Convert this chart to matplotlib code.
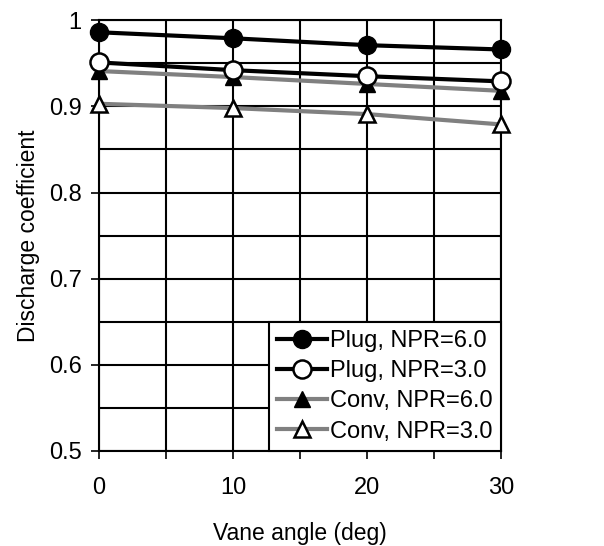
import matplotlib
matplotlib.use('Agg')
import matplotlib.pyplot as plt
import numpy as np

plt.rcParams['font.family'] = ['Liberation Sans', 'DejaVu Sans']

# data
vane_angle = [0, 10, 20, 30]
plug_npr6 = [0.986, 0.979, 0.971, 0.966]
plug_npr3 = [0.951, 0.942, 0.935, 0.929]
conv_npr6 = [0.941, 0.934, 0.926, 0.918]
conv_npr3 = [0.903, 0.898, 0.891, 0.879]

labels = ['Plug, NPR=6.0', 'Plug, NPR=3.0', 'Conv, NPR=6.0', 'Conv, NPR=3.0']

fig = plt.figure(figsize=(6.04, 5.46), dpi=100)
ax = fig.add_axes([0.164, 0.174, 0.666, 0.789])

gray = '#808080'
ax.plot(vane_angle, plug_npr6, color='black', lw=3, marker='o', ms=13,
        mfc='black', mec='black', label=labels[0], zorder=5, clip_on=False)
ax.plot(vane_angle, plug_npr3, color='black', lw=3, marker='o', ms=13,
        mfc='white', mec='black', mew=1.8, label=labels[1], zorder=5, clip_on=False)
ax.plot(vane_angle, conv_npr6, color=gray, lw=3, marker='^', ms=12,
        mfc='black', mec='black', label=labels[2], zorder=4, clip_on=False)
ax.plot(vane_angle, conv_npr3, color=gray, lw=3, marker='^', ms=12,
        mfc='white', mec='black', mew=1.8, label=labels[3], zorder=4, clip_on=False)

ax.set_xlim(0, 30)
ax.set_ylim(0.5, 1.0)
ax.set_xticks([0, 10, 20, 30])
ax.set_xticks(np.arange(0, 31, 5), minor=True)
ax.set_yticks([0.5, 0.6, 0.7, 0.8, 0.9, 1.0])
ax.set_yticks(np.arange(0.5, 1.001, 0.05), minor=True)
ax.set_yticklabels(['0.5', '0.6', '0.7', '0.8', '0.9', '1'])
ax.grid(True, which='both', color='black', lw=1.5)
ax.set_axisbelow(True)

for s in ax.spines.values():
    s.set_linewidth(1.5)
    s.set_color('black')

ax.tick_params(axis='both', which='both', direction='out', length=5.5,
               width=1.2, labelsize=17)
ax.tick_params(axis='y', which='minor', length=0)
ax.tick_params(axis='x', pad=13)
ax.tick_params(axis='y', pad=7)

ax.set_xlabel('Vane angle (deg)', fontsize=16.5, labelpad=17)
ax.set_ylabel('Discharge coefficient', fontsize=16.5, labelpad=6)

leg = ax.legend(loc='lower right', fontsize=17, frameon=True, fancybox=False,
                edgecolor='black', framealpha=1, borderpad=0.35,
                handlelength=2.1, handletextpad=0.15, labelspacing=0.35,
                borderaxespad=0.0)
leg.get_frame().set_linewidth(1.5)
leg.set_zorder(10)

fig.savefig('out.png', dpi=100)
